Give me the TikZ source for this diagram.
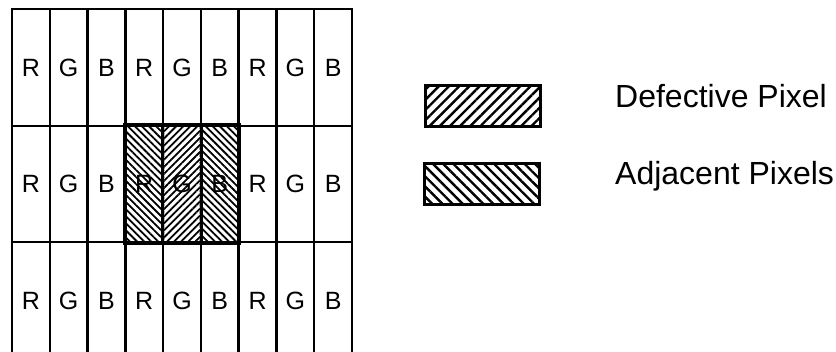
\documentclass[tikz,border=0pt]{standalone}
\usepackage{fontspec}
\setmainfont{Liberation Sans}
\usetikzlibrary{patterns.meta,positioning}

\tikzset{
  cell/.style={draw, line width=2.4pt, minimum width=37.8pt, minimum height=116.5pt,
    inner sep=0pt, font=\fontsize{25}{25}\selectfont},
  defhatch/.style={pattern={Lines[angle=45, distance=5pt, line width=1.8pt]}},
  adjhatch/.style={pattern={Lines[angle=-45, distance=5pt, line width=1.8pt]}},
  legbox/.style={draw, line width=3pt, minimum width=115pt, minimum height=41pt, inner sep=0pt},
  legtext/.style={anchor=base west, inner sep=0pt, font=\fontsize{32}{32}\selectfont}
}

\begin{document}
\begin{tikzpicture}[x=1pt, y=1pt]
  \useasboundingbox (0,0) rectangle (836,352);

  % pixel grid
  \foreach \r/\yy in {1/284.5, 2/168, 3/51.5} {
    \foreach \c/\lt in {1/R, 2/G, 3/B, 4/R, 5/G, 6/B, 7/R, 8/G, 9/B} {
      \node[cell] (c-\r-\c) at ({12+37.78*(\c-0.5)}, \yy) {\lt};
    }
  }

  % defective pixel and its neighbours
  \path[adjhatch] (c-2-4.south west) rectangle (c-2-4.north east);
  \path[defhatch] (c-2-5.south west) rectangle (c-2-5.north east);
  \path[adjhatch] (c-2-6.south west) rectangle (c-2-6.north east);
  \draw[line width=2.4pt] (c-2-4.south west) rectangle (c-2-6.north east);
  \draw[line width=2.4pt] (c-2-5.south west) -- (c-2-5.north west)
    (c-2-5.south east) -- (c-2-5.north east);

  % legend
  \node[legbox, pattern={Lines[angle=45, distance=7.2pt, line width=2.4pt]}] (legdef) at (482.5,245.5) {};
  \node[legbox, pattern={Lines[angle=-45, distance=7.2pt, line width=2.4pt]}] (legadj) at (481.5,168) {};
  \node[legtext] (txtdef) at (615,244) {Defective Pixel};
  \node[legtext] (txtadj) at (615,167) {Adjacent Pixels};
\end{tikzpicture}
\end{document}
